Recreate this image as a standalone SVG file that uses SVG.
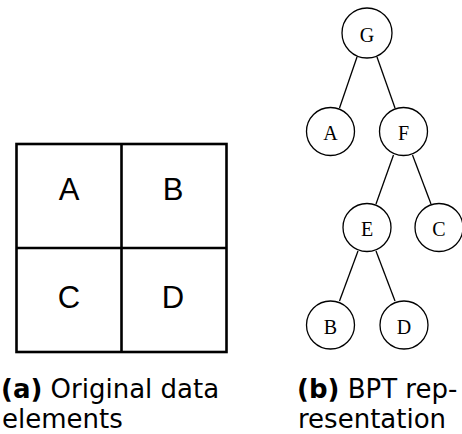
<svg xmlns="http://www.w3.org/2000/svg" width="462" height="434" viewBox="0 0 462 434">
  <style>
    .cell { fill: #fff; stroke: #000; stroke-width: 2.6; }
    .grid { stroke: #000; stroke-width: 2.6; fill: none; }
    .cellLabel { font-family: "Liberation Sans", Arial, sans-serif; font-size: 31px; text-anchor: middle; fill: #000; }
    .node circle { fill: #fff; stroke: #000; stroke-width: 1.3; }
    .node text { font-family: "Liberation Serif", "Times New Roman", serif; font-size: 20px; text-anchor: middle; fill: #000; }
    .edge { stroke: #000; stroke-width: 1.3; }
    .cap { font-family: "DejaVu Sans", sans-serif; font-size: 26px; fill: #000; }
    .capB { font-weight: bold; }
  </style>

  <!-- (a) 2x2 data grid -->
  <g id="grid">
    <rect class="cell" x="16.5" y="144" width="210" height="208"/>
    <line class="grid" x1="121.5" y1="144" x2="121.5" y2="352"/>
    <line class="grid" x1="16.5" y1="248" x2="226.5" y2="248"/>
    <text class="cellLabel" x="69" y="200">A</text>
    <text class="cellLabel" x="173" y="200">B</text>
    <text class="cellLabel" x="69" y="307.5">C</text>
    <text class="cellLabel" x="173" y="307.5">D</text>
  </g>

  <!-- (b) tree edges -->
  <g id="edges">
    <line class="edge" x1="357" y1="57" x2="339.5" y2="108"/>
    <line class="edge" x1="377" y1="57" x2="395" y2="108"/>
    <line class="edge" x1="393.5" y1="155" x2="376" y2="204"/>
    <line class="edge" x1="412.5" y1="155" x2="431" y2="204"/>
    <line class="edge" x1="358" y1="251" x2="339.5" y2="301"/>
    <line class="edge" x1="376" y1="251" x2="395" y2="301"/>
  </g>

  <!-- (b) tree nodes -->
  <g id="node-G" class="node"><circle cx="367" cy="33" r="25"/><text x="367" y="41.5">G</text></g>
  <g id="node-A" class="node"><circle cx="330.5" cy="131.5" r="24"/><text x="330.5" y="140">A</text></g>
  <g id="node-F" class="node"><circle cx="403.5" cy="131.5" r="24"/><text x="403.5" y="140">F</text></g>
  <g id="node-E" class="node"><circle cx="367" cy="227.5" r="24"/><text x="367" y="236">E</text></g>
  <g id="node-C" class="node"><circle cx="439" cy="227.5" r="24"/><text x="439" y="236">C</text></g>
  <g id="node-B" class="node"><circle cx="330.5" cy="325" r="24"/><text x="330.5" y="333.5">B</text></g>
  <g id="node-D" class="node"><circle cx="404" cy="325" r="24"/><text x="404" y="333.5">D</text></g>

  <!-- captions -->
  <g id="captions">
    <text class="cap" x="1" y="397.5"><tspan class="capB">(a)</tspan> Original data</text>
    <text class="cap" x="2" y="427.5">elements</text>
    <text class="cap" x="297" y="397.5"><tspan class="capB">(b)</tspan> BPT rep-</text>
    <text class="cap" x="298" y="427.5">resentation</text>
  </g>
</svg>
